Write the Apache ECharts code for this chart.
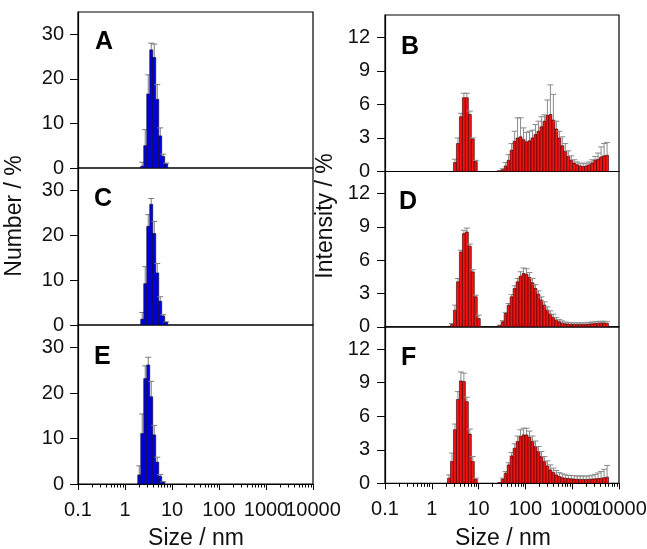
<!DOCTYPE html>
<html><head><meta charset="utf-8">
<script src="https://cdn.jsdelivr.net/npm/echarts@6/dist/echarts.min.js"></script>
<style>html,body{margin:0;padding:0;background:#fff}#c{width:647px;height:549px}</style>
</head><body><div id="c"></div>
<script>
// Size bins (nm), log-spaced
const SIZES = [0.4, 0.4632, 0.5365, 0.6213, 0.7195, 0.8332, 0.9649, 1.117, 1.294, 1.499,
  1.736, 2.01, 2.328, 2.696, 3.122, 3.615, 4.187, 4.849, 5.615, 6.503,
  7.531, 8.721, 10.1, 11.7, 13.54, 15.69, 18.17, 21.04, 24.36, 28.21,
  32.67, 37.84, 43.82, 50.75, 58.77, 68.06, 78.82, 91.28, 105.7, 122.4,
  141.8, 164.2, 190.1, 220.2, 255, 295.3, 342, 396.1, 458.7, 531.2,
  615.1, 712.4, 825, 955.4, 1106, 1281, 1484, 1718, 1990, 2305,
  2669, 3091, 3580, 4145, 4801, 5560, 6439, 7456, 8635, 10000];

const X_TICK_VALUES = [0.1, 1, 10, 100, 1000, 10000];
const X_TICK_LABELS = ['0.1', '1', '10', '100', '1000', '10000'];
const NUM_TICKS = [0, 10, 20, 30];
const INT_TICKS = [0, 3, 6, 9, 12];

// Number distributions (index aligned with SIZES)
const A_VAL = [0,0,0,0,0,0,0,0,0,0,0,0, 0.4,5.0,16.6,26.5,24.8,15.4,7.2,2.6,0.9];
const A_ERR = [0,0,0,0,0,0,0,0,0,0,0,0, 0.9,3.6,4.3,1.5,3.0,3.3,1.8,0.5,0.2];
const C_VAL = [0,0,0,0,0,0,0,0,0,0,0,0, 1.3,9.2,22,26.9,20.4,11.6,5.3,2.0,0.6];
const C_ERR = [0,0,0,0,0,0,0,0,0,0,0,0, 1.5,3.8,2.6,1.3,2.7,2.1,1.0,0.3,0.1];
const E_VAL = [0,0,0,0,0,0,0,0,0,0,0, 2.0,11.1,23.2,26.2,19.2,10.8,4.8,1.7,0.4];
const E_ERR = [0,0,0,0,0,0,0,0,0,0,0, 2.0,4.3,2.8,1.7,3.4,2.1,1.1,0.4,0.1];

// Intensity distributions
const B_VAL = [0,0,0,0,0,0,0,0,0,0,0,0,0,0,
  0.8,2.5,4.9,6.6,6.6,5.1,2.9,0.9,
  0,0,0,0,0,0,0,
  0.05,0.15,0.5,1.0,1.9,2.7,3.0,3.1,2.85,2.65,2.75,3.0,3.3,3.6,4.0,4.5,5.0,5.1,4.6,3.8,3.0,2.3,
  1.8,1.35,1.0,0.75,0.6,0.5,0.45,0.5,0.6,0.75,1.0,1.1,1.3,1.4,1.45];
const B_ERR = [0,0,0,0,0,0,0,0,0,0,0,0,0,0,
  0.3,0.5,0.3,0.4,0.4,0.3,0.1,0.1,
  0,0,0,0,0,0,0,
  0.05,0.1,0.3,0.5,0.6,0.9,1.8,1.7,1.05,0.85,0.85,0.7,0.9,0.9,0.9,0.57,1.4,2.65,2.3,0.7,0.6,0.8,
  0.7,0.5,0.4,0.3,0.25,0.25,0.25,0.25,0.25,0.3,0.35,0.55,0.9,1.1,1.15];
const D_VAL = [0,0,0,0,0,0,0,0,0,0,0,0,0,
  0.2,1.5,4.05,6.75,8.4,8.55,7.26,4.95,2.7,0.75,
  0,0,0,0,0,0,
  0.1,0.45,1.2,1.95,2.7,3.45,4.05,4.56,4.8,4.74,4.44,3.96,3.45,2.94,2.4,1.95,1.5,1.14,0.84,0.6,0.45,0.33,
  0.27,0.25,0.22,0.2,0.2,0.2,0.2,0.22,0.25,0.28,0.3,0.33,0.35,0.35,0.3];
const D_ERR = [0,0,0,0,0,0,0,0,0,0,0,0,0,
  0.1,0.45,0.3,0.15,0.3,0.35,0.2,0.2,0.15,0.3,
  0,0,0,0,0,0,
  0.05,0.1,0.1,0.15,0.2,0.25,0.3,0.4,0.5,0.5,0.45,0.4,0.35,0.3,0.3,0.3,0.3,0.3,0.3,0.25,0.2,0.2,
  0.15,0.15,0.15,0.15,0.15,0.15,0.15,0.15,0.15,0.15,0.15,0.15,0.15,0.15,0.15];
const F_VAL = [0,0,0,0,0,0,0,0,0,0,0,0,
  0.45,1.95,4.8,7.5,9.16,9.1,7.3,4.4,1.95,0.36,
  0,0,0,0,0,0,0,
  0.05,0.36,0.9,1.64,2.45,3.13,3.73,4.18,4.33,4.33,4.12,3.73,3.28,2.84,2.4,1.94,1.55,1.2,0.96,0.75,0.6,0.5,
  0.45,0.42,0.4,0.38,0.36,0.35,0.35,0.35,0.36,0.38,0.4,0.42,0.45,0.5,0.55];
const F_ERR = [0,0,0,0,0,0,0,0,0,0,0,0,
  0.3,0.75,0.5,0.7,0.8,0.75,0.4,0.45,0.45,0.1,
  0,0,0,0,0,0,0,
  0.02,0.1,0.15,0.2,0.3,0.4,0.5,0.6,0.6,0.6,0.55,0.5,0.5,0.45,0.45,0.45,0.45,0.45,0.4,0.4,0.35,0.35,
  0.3,0.3,0.3,0.3,0.3,0.3,0.3,0.3,0.3,0.35,0.4,0.5,0.6,0.75,1.05];

const FONT = '"Liberation Sans", Arial, Helvetica, sans-serif';
const LOGS = SIZES.map(s => Math.log10(s));
function edgeL(k) { return k > 0 ? (LOGS[k - 1] + LOGS[k]) / 2 : LOGS[0] - (LOGS[1] - LOGS[0]) / 2; }
function edgeR(k) { return k < LOGS.length - 1 ? (LOGS[k] + LOGS[k + 1]) / 2 : LOGS[k] + (LOGS[k] - LOGS[k - 1]) / 2; }
function buildData(vals, errs) {
  const out = [];
  for (let k = 0; k < vals.length; k++) {
    if (vals[k] > 0) out.push([LOGS[k], vals[k], edgeL(k), edgeR(k), errs[k] || 0]);
  }
  return out;
}
const MINOR = [];
for (let d = -1; d < 4; d++) for (let m = 2; m <= 9; m++) MINOR.push(Math.log10(m * Math.pow(10, d)));
const MAJOR = X_TICK_VALUES.map(v => Math.log10(v));
// labels split over two overlaid axes so that touching labels ("1000", "10000") are both kept
const LABELS_MAIN = MAJOR.filter((v, j) => j % 2 === 0);
const LABELS_ALT = MAJOR.filter((v, j) => j % 2 === 1);
const fmtX = v => { const j = MAJOR.findIndex(m => Math.abs(m - v) < 1e-6); return j >= 0 ? X_TICK_LABELS[j] : ''; };

const PANELS = [
  {id: 'A', val: A_VAL, err: A_ERR, g: {left: 78, top: 12, width: 235, height: 156}, ymax: 35, ticks: NUM_TICKS, fill: '#0000e6', stroke: '#000022', ec: '#7a7a7a', bottom: false, lx: 95, ly: 44, lm: 14},
  {id: 'C', val: C_VAL, err: C_ERR, g: {left: 78, top: 168, width: 235, height: 157}, ymax: 35, ticks: NUM_TICKS, fill: '#0000e6', stroke: '#000022', ec: '#7a7a7a', bottom: false, lx: 94, ly: 201, lm: 14},
  {id: 'E', val: E_VAL, err: E_ERR, g: {left: 78, top: 325, width: 235, height: 159}, ymax: 35, ticks: NUM_TICKS, fill: '#0000e6', stroke: '#000022', ec: '#7a7a7a', bottom: true, lx: 94, ly: 359, lm: 14},
  {id: 'B', val: B_VAL, err: B_ERR, g: {left: 385, top: 15, width: 234, height: 156.5}, ymax: 14, ticks: INT_TICKS, fill: '#f21212', stroke: '#300000', ec: '#8a8a8a', bottom: false, lx: 401, ly: 49, lm: 15},
  {id: 'D', val: D_VAL, err: D_ERR, g: {left: 385, top: 171.5, width: 234, height: 155.3}, ymax: 14, ticks: INT_TICKS, fill: '#f21212', stroke: '#300000', ec: '#8a8a8a', bottom: false, lx: 399, ly: 204, lm: 15},
  {id: 'F', val: F_VAL, err: F_ERR, g: {left: 385, top: 326.8, width: 234, height: 156.5}, ymax: 14, ticks: INT_TICKS, fill: '#f21212', stroke: '#300000', ec: '#8a8a8a', bottom: true, lx: 401, ly: 360, lm: 15}
];

function makeRender(p) {
  return function (params, api) {
    const base = api.coord([api.value(2), 0]);
    const tr = api.coord([api.value(3), api.value(1)]);
    const c = api.coord([api.value(0), api.value(1)]);
    const t = api.coord([api.value(0), api.value(1) + api.value(4)]);
    const w = tr[0] - base[0];
    const ch = [];
    if (api.value(4) > 0) {
      ch.push({type: 'line', shape: {x1: c[0], y1: c[1], x2: c[0], y2: t[1]}, style: {stroke: p.ec, lineWidth: 1}});
      ch.push({type: 'line', shape: {x1: c[0] - w, y1: t[1], x2: c[0] + w, y2: t[1]}, style: {stroke: p.ec, lineWidth: 1}});
    }
    ch.push({type: 'rect', shape: {x: base[0], y: tr[1], width: w, height: base[1] - tr[1]}, style: {fill: p.fill, stroke: p.stroke, lineWidth: 0.6}});
    return {type: 'group', children: ch};
  };
}

const grid = [], xAxis = [], yAxis = [], series = [], graphic = [];
PANELS.forEach((p, i) => {
  grid.push(Object.assign({show: true, borderColor: '#000', borderWidth: 1.2, backgroundColor: 'transparent', containLabel: false, outerBoundsMode: 'none'}, p.g));
  const mainX = xAxis.length;
  xAxis.push({
    type: 'value', gridIndex: i, min: -1, max: 4, interval: 1, position: 'bottom',
    axisLine: {show: p.bottom, onZero: false, lineStyle: {color: '#000', width: 1.2}},
    axisTick: {show: p.bottom, length: 6, inside: false, customValues: MAJOR, lineStyle: {color: '#000', width: 1}},
    axisLabel: {show: p.bottom, margin: 16, color: '#111', fontSize: 20, fontFamily: FONT,
      customValues: LABELS_MAIN, showMinLabel: true, showMaxLabel: true, hideOverlap: false, formatter: fmtX},
    splitLine: {show: false}
  });
  if (p.bottom) {
    xAxis.push({
      type: 'value', gridIndex: i, min: -1, max: 4, interval: 1, position: 'bottom',
      axisLine: {show: false, onZero: false},
      axisTick: {show: true, length: 3.5, customValues: MINOR, lineStyle: {color: '#000', width: 1}},
      axisLabel: {show: true, margin: 16, color: '#111', fontSize: 20, fontFamily: FONT,
        customValues: LABELS_ALT, showMinLabel: true, showMaxLabel: true, hideOverlap: false, formatter: fmtX},
      splitLine: {show: false}
    });
  }
  yAxis.push({
    type: 'value', gridIndex: i, min: 0, max: p.ymax,
    axisLine: {show: true, onZero: false, lineStyle: {color: '#000', width: 1.2}},
    axisTick: {show: true, length: 8, customValues: p.ticks, lineStyle: {color: '#000', width: 1}},
    axisLabel: {show: true, customValues: p.ticks, margin: p.lm, color: '#111', fontSize: 20, fontFamily: FONT,
      showMinLabel: true, showMaxLabel: true, hideOverlap: false},
    splitLine: {show: false}
  });
  series.push({
    type: 'custom', xAxisIndex: mainX, yAxisIndex: i, clip: true,
    renderItem: makeRender(p), data: buildData(p.val, p.err), silent: true
  });
  graphic.push({type: 'text', left: p.lx, top: p.ly - 14, style: {text: p.id, font: 'bold 25px ' + FONT, fill: '#000'}});
});

graphic.push({type: 'text', x: 15, y: 216, rotation: Math.PI / 2,
  style: {text: 'Number / %', font: '23px ' + FONT, fill: '#111', align: 'center', verticalAlign: 'middle'}});
graphic.push({type: 'text', x: 326, y: 216, rotation: Math.PI / 2,
  style: {text: 'Intensity / %', font: '23px ' + FONT, fill: '#111', align: 'center', verticalAlign: 'middle'}});
graphic.push({type: 'text', x: 196, y: 539,
  style: {text: 'Size / nm', font: '23px ' + FONT, fill: '#111', align: 'center', verticalAlign: 'middle'}});
graphic.push({type: 'text', x: 503, y: 539,
  style: {text: 'Size / nm', font: '23px ' + FONT, fill: '#111', align: 'center', verticalAlign: 'middle'}});

const chart = echarts.init(document.getElementById('c'), null, {renderer: 'canvas'});
chart.setOption({animation: false, backgroundColor: '#fff', grid, xAxis, yAxis, series, graphic});
</script></body></html>
